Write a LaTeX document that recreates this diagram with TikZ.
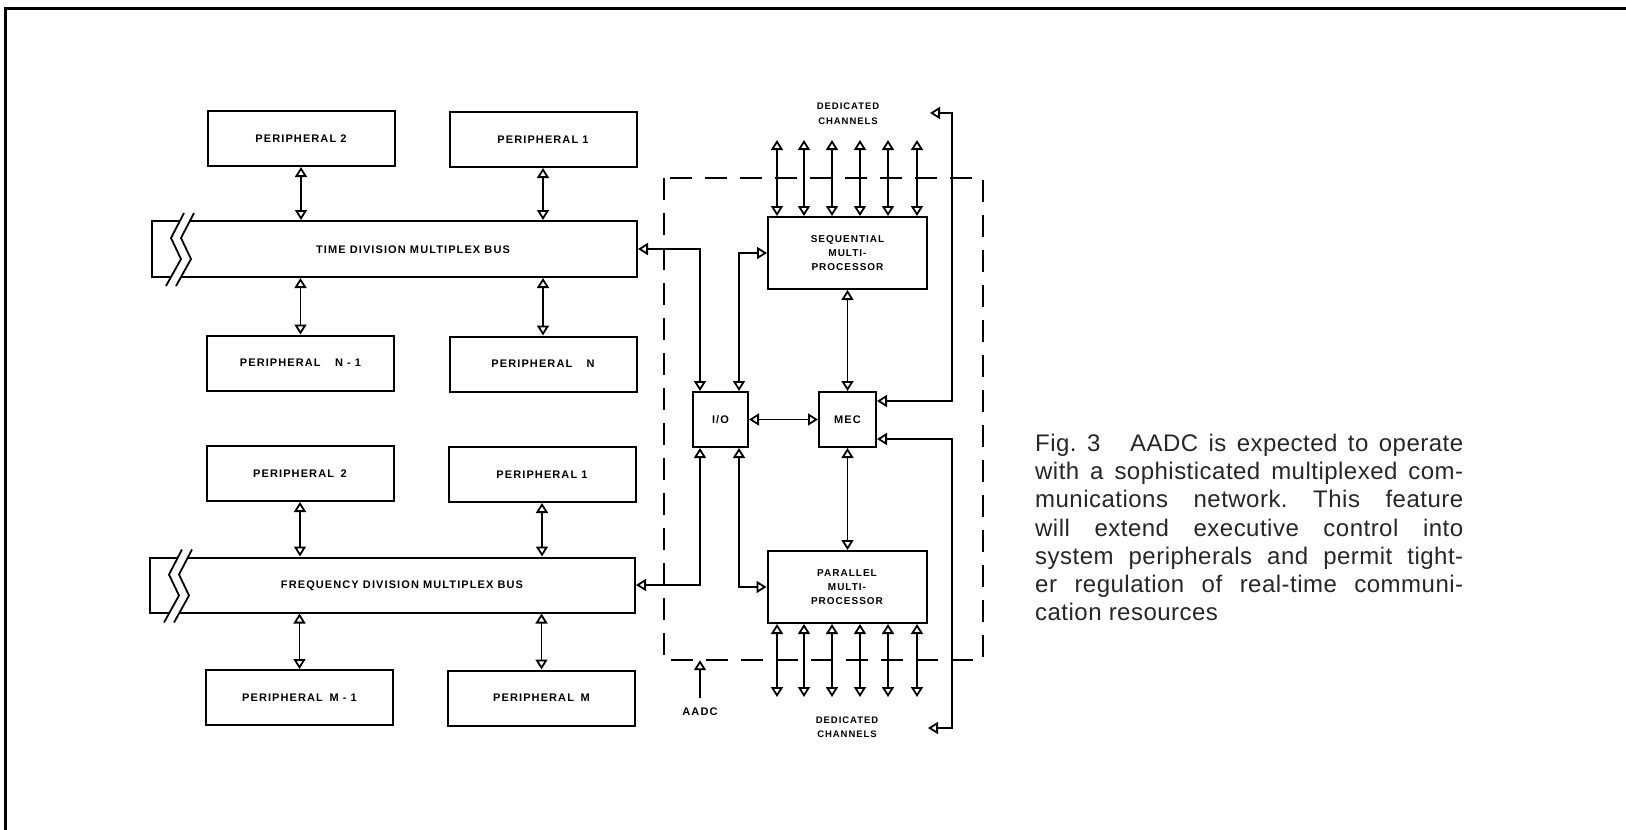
\documentclass[tikz,border=0pt]{standalone}
\usepackage{fontspec}
\usetikzlibrary{arrows.meta}
\newfontfamily\lblfont[LetterSpace=10]{Liberation Sans}
\newfontfamily\capfont[LetterSpace=2]{Liberation Sans}
\newcommand\capline[1]{\makebox[428pt][s]{#1}}
\frenchspacing
\begin{document}
\begin{tikzpicture}[x=1pt,y=-1pt,
  >={Triangle[open,length=10pt,width=12pt]},
  box/.style={draw, line width=2pt, inner sep=0pt, align=center,
    font={\lblfont\bfseries\fontsize{11}{14}\selectfont}},
  pbox/.style={box, minimum width=187pt, minimum height=55pt},
  busbox/.style={draw, line width=2pt, inner sep=0pt, minimum width=485pt},
  mpbox/.style={box, minimum width=159pt, minimum height=72pt,
    font={\lblfont\bfseries\fontsize{10}{14}\selectfont}},
  sbox/.style={box, minimum height=55pt},
  lbl/.style={inner sep=0pt, font={\lblfont\bfseries\fontsize{11}{14}\selectfont}},
  chan/.style={inner sep=0pt, align=center, font={\lblfont\bfseries\fontsize{9.5}{15}\selectfont}},
  conn/.style={line width=1.8pt},
  dash box/.style={line width=1.8pt, dash pattern=on 22pt off 13pt},
  frame/.style={line width=3pt},
  zig/.style={line width=1.8pt}
]
\useasboundingbox (0,0) rectangle (1626,830);

% outer frame
\draw[frame] (5,830) -- (5,8) -- (1626,8);

% ---------- time division group ----------
\node[pbox] (pa2) at (301,138.5) {PERIPHERAL 2};
\node[pbox] (pa1) at (543,139.5) {PERIPHERAL 1};
\node[busbox, minimum height=56pt] (busA) at (394.5,249) {};
\node[lbl] (tA) at (413,250) {TIME DIVISION MULTIPLEX BUS};
\node[pbox] (paN1) at (300.5,363) {PERIPHERAL\hspace{1.3em}N - 1};
\node[pbox] (paN) at (543,364) {PERIPHERAL\hspace{1.3em}N};

\begin{scope}[shift={(busA.north west)}]
  \fill[white] (33,-7) -- (20,18) -- (30,39) -- (15,66) -- (25,66) -- (40,39) -- (30,18) -- (43,-7) -- cycle;
  \draw[zig] (33,-7) -- (20,18) -- (30,39) -- (15,66);
  \draw[zig] (43,-7) -- (30,18) -- (40,39) -- (25,66);
\end{scope}

\draw[conn,<->] (pa2.south) -- (pa2.south |- busA.north);
\draw[conn,<->] (pa1.south) -- (pa1.south |- busA.north);
\draw[conn,<->] (paN1.north |- busA.south) -- (paN1.north);
\draw[conn,<->] (paN.north |- busA.south) -- (paN.north);

% ---------- frequency division group ----------
\node[pbox] (pb2) at (300,473.5) {PERIPHERAL\hspace{0.6em}2};
\node[pbox] (pb1) at (542,474.5) {PERIPHERAL 1};
\node[busbox, minimum height=55pt] (busB) at (392.5,585) {};
\node[lbl] (tB) at (402,586) {FREQUENCY DIVISION MULTIPLEX BUS};
\node[pbox] (pbM1) at (299.5,697.5) {PERIPHERAL\hspace{0.6em}M - 1};
\node[pbox] (pbM) at (541.5,698) {PERIPHERAL\hspace{0.6em}M};

\begin{scope}[shift={(busB.north west)}]
  \fill[white] (33,-7) -- (20,18) -- (30,39) -- (15,66) -- (25,66) -- (40,39) -- (30,18) -- (43,-7) -- cycle;
  \draw[zig] (33,-7) -- (20,18) -- (30,39) -- (15,66);
  \draw[zig] (43,-7) -- (30,18) -- (40,39) -- (25,66);
\end{scope}

\draw[conn,<->] (pb2.south) -- (pb2.south |- busB.north);
\draw[conn,<->] (pb1.south) -- (pb1.south |- busB.north);
\draw[conn,<->] (pbM1.north |- busB.south) -- (pbM1.north);
\draw[conn,<->] (pbM.north |- busB.south) -- (pbM.north);

% ---------- AADC ----------
\node[draw=none, minimum width=319pt, minimum height=482pt, inner sep=0pt] (aadcbox) at (823.5,419) {};
\draw[dash box] (aadcbox.north west) rectangle (aadcbox.south east);

\node[mpbox] (smp) at (847.5,253) {SEQUENTIAL\\MULTI-\\PROCESSOR};
\node[mpbox] (pmp) at (847,587) {PARALLEL\\MULTI-\\PROCESSOR};
\node[sbox, minimum width=55pt] (io) at (720.5,419.5) {I/O};
\node[sbox, minimum width=57pt] (mec) at (847.5,419.5) {MEC};

\draw[conn,<->] (busA.east) -| ([xshift=8pt]io.north west);
\draw[conn,<->] (smp.west) -| ([xshift=-10pt]io.north east);
\draw[conn,<->] (busB.east) -| ([xshift=8pt]io.south west);
\draw[conn,<->] (pmp.west) -| ([xshift=-10pt]io.south east);
\draw[conn,<->] (io) -- (mec);
\draw[conn,<->] (smp.south) -- (smp.south |- mec.north);
\draw[conn,<->] (mec.south) -- (mec.south |- pmp.north);

% dedicated channels
\foreach \x [count=\i] in {777,804,832,860,888,917} {
  \coordinate (ct\i) at (\x,140);
  \coordinate (cb\i) at (\x,697);
  \draw[conn,<->] (ct\i) -- (ct\i |- smp.north);
  \draw[conn,<->] (cb\i |- pmp.south) -- (cb\i);
}
\node[chan] (dcT) at (848,114) {DEDICATED\\CHANNELS};
\node[chan, font={\lblfont\bfseries\fontsize{9.5}{13.5}\selectfont}] (dcB) at (847,727) {DEDICATED\\CHANNELS};

% feedback lines
\coordinate (fbt) at (930,113);
\coordinate (fbb) at (928,728);
\draw[conn,<->] (fbt) -- (952,113) |- ([yshift=18.5pt]mec.east);
\draw[conn,<->] ([yshift=-19.5pt]mec.east) -| (952,728) -- (fbb);

% AADC input
\coordinate (aadcsrc) at (700,698);
\draw[conn,->] (aadcsrc) -- (aadcsrc |- aadcbox.south);
\node[lbl] (aadclbl) at (700,712) {AADC};

% caption
\node[anchor=north west, inner sep=0pt, align=left, text=black!85,
  font={\capfont\fontsize{24}{28.2}\selectfont}] (cap) at (1035,434) {%
\capline{Fig. 3\hspace{0.8em} AADC is expected to operate}\\
\capline{with a sophisticated multiplexed com-}\\
\capline{munications network. This feature}\\
\capline{will extend executive control into}\\
\capline{system peripherals and permit tight-}\\
\capline{er regulation of real-time communi-}\\
cation resources};
\end{tikzpicture}
\end{document}
